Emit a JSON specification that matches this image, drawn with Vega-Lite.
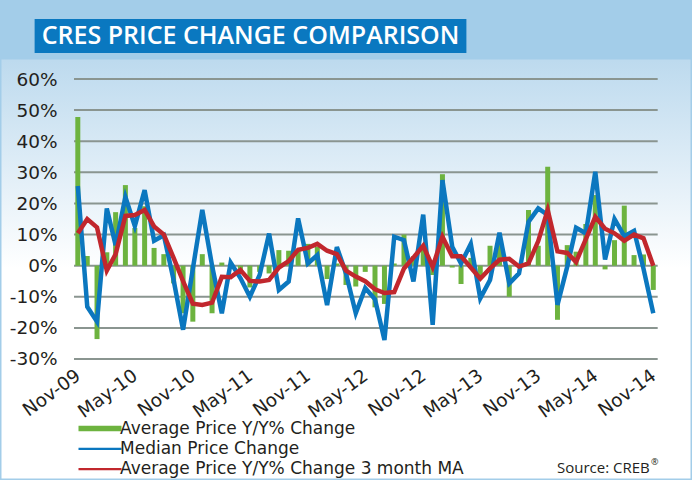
{
  "$schema": "https://vega.github.io/schema/vega-lite/v6.json",
  "width": 692,
  "height": 480,
  "autosize": {"type": "none"},
  "padding": 0,
  "background": "#ffffff",
  "config": {
    "font": "DejaVu Sans",
    "view": {
      "fill": {
        "gradient": "linear",
        "x1": 0, "y1": 0, "x2": 0, "y2": 1,
        "stops": [
          {"offset": 0, "color": "#a3cde9"},
          {"offset": 0.122, "color": "#a3cde9"},
          {"offset": 0.126, "color": "#bddaee"},
          {"offset": 0.56, "color": "#ffffff"},
          {"offset": 1, "color": "#ffffff"}
        ]
      },
      "stroke": "#a3cde9",
      "strokeWidth": 3
    }
  },
  "datasets": {
    "monthly": [
      {"date": "2009-11-01", "avg": 47.8, "median": 25.6, "ma": 10.4},
      {"date": "2009-12-01", "avg": 3.1, "median": -13.2, "ma": 15.0},
      {"date": "2010-01-01", "avg": -23.6, "median": -18.0, "ma": 12.3},
      {"date": "2010-02-01", "avg": 4.3, "median": 18.4, "ma": -1.6},
      {"date": "2010-03-01", "avg": 17.2, "median": 6.6, "ma": 3.7},
      {"date": "2010-04-01", "avg": 25.9, "median": 22.1, "ma": 16.0},
      {"date": "2010-05-01", "avg": 12.1, "median": 12.7, "ma": 16.3},
      {"date": "2010-06-01", "avg": 19.1, "median": 24.3, "ma": 17.9},
      {"date": "2010-07-01", "avg": 5.7, "median": 8.0, "ma": 12.6},
      {"date": "2010-08-01", "avg": 3.7, "median": 9.8, "ma": 10.0},
      {"date": "2010-09-01", "avg": -5.7, "median": -4.6, "ma": 2.5},
      {"date": "2010-10-01", "avg": -15.3, "median": -20.6, "ma": -5.0},
      {"date": "2010-11-01", "avg": -18.0, "median": -1.0, "ma": -12.2},
      {"date": "2010-12-01", "avg": 3.7, "median": 17.9, "ma": -12.6},
      {"date": "2011-01-01", "avg": -15.3, "median": 0.0, "ma": -11.9},
      {"date": "2011-02-01", "avg": 1.0, "median": -15.3, "ma": -3.6},
      {"date": "2011-03-01", "avg": 0.5, "median": 1.0, "ma": -3.7},
      {"date": "2011-04-01", "avg": -2.0, "median": -4.0, "ma": -1.4},
      {"date": "2011-05-01", "avg": -7.0, "median": -10.0, "ma": -4.9},
      {"date": "2011-06-01", "avg": -2.0, "median": -3.0, "ma": -5.1},
      {"date": "2011-07-01", "avg": -2.5, "median": 10.3, "ma": -4.6},
      {"date": "2011-08-01", "avg": 5.0, "median": -7.8, "ma": -0.6},
      {"date": "2011-09-01", "avg": 4.8, "median": -5.1, "ma": 1.5},
      {"date": "2011-10-01", "avg": 5.2, "median": 15.2, "ma": 5.1},
      {"date": "2011-11-01", "avg": 7.0, "median": 0.7, "ma": 5.7},
      {"date": "2011-12-01", "avg": 6.0, "median": 3.4, "ma": 7.0},
      {"date": "2012-01-01", "avg": -4.3, "median": -12.7, "ma": 4.8},
      {"date": "2012-02-01", "avg": 0.7, "median": 6.0, "ma": 3.7},
      {"date": "2012-03-01", "avg": -6.2, "median": -2.5, "ma": -1.6},
      {"date": "2012-04-01", "avg": -6.7, "median": -15.3, "ma": -3.5},
      {"date": "2012-05-01", "avg": -2.0, "median": -7.2, "ma": -5.0},
      {"date": "2012-06-01", "avg": -13.4, "median": -10.8, "ma": -7.6},
      {"date": "2012-07-01", "avg": -12.3, "median": -23.9, "ma": -8.8},
      {"date": "2012-08-01", "avg": 0.7, "median": 9.3, "ma": -8.5},
      {"date": "2012-09-01", "avg": 10.0, "median": 8.2, "ma": -0.9},
      {"date": "2012-10-01", "avg": 3.0, "median": -5.1, "ma": 2.6},
      {"date": "2012-11-01", "avg": 6.0, "median": 16.4, "ma": 6.4},
      {"date": "2012-12-01", "avg": -3.0, "median": -19.0, "ma": -0.4},
      {"date": "2013-01-01", "avg": 29.4, "median": 27.5, "ma": 9.3},
      {"date": "2013-02-01", "avg": -0.6, "median": 6.1, "ma": 3.0},
      {"date": "2013-03-01", "avg": -5.9, "median": 0.7, "ma": 3.0},
      {"date": "2013-04-01", "avg": 2.5, "median": 7.0, "ma": -0.6},
      {"date": "2013-05-01", "avg": -4.0, "median": -10.5, "ma": -4.2},
      {"date": "2013-06-01", "avg": 6.4, "median": -4.6, "ma": -0.9},
      {"date": "2013-07-01", "avg": 8.0, "median": 10.6, "ma": 1.9},
      {"date": "2013-08-01", "avg": -10.0, "median": -5.7, "ma": 2.2},
      {"date": "2013-09-01", "avg": 0.5, "median": -2.5, "ma": -0.3},
      {"date": "2013-10-01", "avg": 17.9, "median": 14.1, "ma": 0.7},
      {"date": "2013-11-01", "avg": 6.4, "median": 18.4, "ma": 7.9},
      {"date": "2013-12-01", "avg": 31.8, "median": 16.3, "ma": 17.9},
      {"date": "2014-01-01", "avg": -17.4, "median": -12.6, "ma": 4.6},
      {"date": "2014-02-01", "avg": 6.6, "median": -0.3, "ma": 4.1},
      {"date": "2014-03-01", "avg": 4.5, "median": 12.2, "ma": 1.2},
      {"date": "2014-04-01", "avg": 13.4, "median": 10.4, "ma": 8.5},
      {"date": "2014-05-01", "avg": 22.7, "median": 30.2, "ma": 15.7},
      {"date": "2014-06-01", "avg": -1.2, "median": 2.0, "ma": 11.9},
      {"date": "2014-07-01", "avg": 8.2, "median": 15.0, "ma": 10.4},
      {"date": "2014-08-01", "avg": 19.3, "median": 9.5, "ma": 8.0},
      {"date": "2014-09-01", "avg": 3.4, "median": 11.2, "ma": 10.0},
      {"date": "2014-10-01", "avg": 3.6, "median": -1.0, "ma": 8.8},
      {"date": "2014-11-01", "avg": -7.8, "median": -15.3, "ma": 0.0}
    ],
    "gridlines": [
      {"v": -30}, {"v": -20}, {"v": -10}, {"v": 0}, {"v": 10},
      {"v": 20}, {"v": 30}, {"v": 40}, {"v": 50}, {"v": 60}
    ]
  },
  "layer": [
    {
      "data": {"values": [{"heading": "CRES PRICE CHANGE COMPARISON"}]},
      "layer": [
        {
          "mark": {"type": "rect", "color": "#0a78c0"},
          "encoding": {
            "x": {"datum": {"year": 2009, "month": 6, "date": 17, "utc": true}, "type": "temporal",
                  "scale": {"type": "utc", "domain": [{"year": 2009, "month": 3, "date": 15, "utc": true}, {"year": 2015, "month": 2, "date": 16, "utc": true}]}},
            "x2": {"datum": {"year": 2013, "month": 3, "date": 18, "utc": true}},
            "y": {"datum": 79.3, "type": "quantitative",
                  "scale": {"domain": [-68.9, 85.4], "nice": false, "zero": false}},
            "y2": {"datum": 68.4}
          }
        },
        {
          "mark": {"type": "text", "color": "#ffffff", "font": "Open Sans", "fontSize": 25, "fontWeight": 600, "align": "center", "baseline": "middle"},
          "encoding": {
            "text": {"field": "heading"},
            "x": {"datum": {"year": 2011, "month": 5, "date": 3, "utc": true}, "type": "temporal"},
            "y": {"datum": 73.9, "type": "quantitative"}
          }
        }
      ]
    },
    {
      "data": {"name": "gridlines"},
      "mark": {"type": "rule", "color": "#8a9590", "strokeWidth": 2},
      "encoding": {
        "y": {"field": "v", "type": "quantitative",
              "scale": {"domain": [-68.9, 85.4], "nice": false, "zero": false},
              "axis": {"title": null, "values": [-30, -20, -10, 0, 10, 20, 30, 40, 50, 60],
                       "labelExpr": "datum.value + '%'", "domain": false, "ticks": false, "tickSize": 0,
                       "grid": false, "orient": "left", "offset": -62, "zindex": 2,
                       "labelAlign": "right", "labelBaseline": "middle", "labelPadding": 5,
                       "labelFont": "DejaVu Sans", "labelFontSize": 18.5, "labelColor": "#231f20"}},
        "x": {"datum": {"year": 2009, "month": 10, "date": 20, "utc": true}, "type": "temporal"},
        "x2": {"datum": {"year": 2014, "month": 11, "date": 15, "utc": true}}
      }
    },
    {
      "data": {"name": "monthly"},
      "layer": [
        {
          "mark": {"type": "bar", "width": 5},
          "encoding": {
            "x": {"field": "date", "type": "temporal",
                  "scale": {"type": "utc", "domain": [{"year": 2009, "month": 3, "date": 15, "utc": true}, {"year": 2015, "month": 2, "date": 16, "utc": true}]},
                  "axis": {"title": null, "format": "%b-%y", "orient": "bottom", "offset": -118, "zindex": 2,
                           "values": [
                             {"year": 2009, "month": 11, "date": 1, "utc": true},
                             {"year": 2010, "month": 5, "date": 1, "utc": true},
                             {"year": 2010, "month": 11, "date": 1, "utc": true},
                             {"year": 2011, "month": 5, "date": 1, "utc": true},
                             {"year": 2011, "month": 11, "date": 1, "utc": true},
                             {"year": 2012, "month": 5, "date": 1, "utc": true},
                             {"year": 2012, "month": 11, "date": 1, "utc": true},
                             {"year": 2013, "month": 5, "date": 1, "utc": true},
                             {"year": 2013, "month": 11, "date": 1, "utc": true},
                             {"year": 2014, "month": 5, "date": 1, "utc": true},
                             {"year": 2014, "month": 11, "date": 1, "utc": true}
                           ],
                           "labelAngle": -36, "labelAlign": "right", "labelBaseline": "middle",
                           "labelOverlap": false, "labelBound": false, "labelFlush": false,
                           "labelPadding": 11, "domain": false, "ticks": false, "tickSize": 0, "grid": false,
                           "labelFont": "DejaVu Sans", "labelFontSize": 18.5, "labelColor": "#231f20"}},
            "y": {"field": "avg", "type": "quantitative"},
            "y2": {"datum": 0},
            "color": {
              "datum": "avg",
              "scale": {"domain": ["avg", "median", "ma"], "range": ["#6db33f", "#0b77bf", "#c1272d"]},
              "legend": {
                "title": null, "orient": "none", "legendX": 91.5, "legendY": 420,
                "direction": "vertical", "padding": 0,
                "labelExpr": "datum.value === 'avg' ? 'Average Price Y/Y% Change' : datum.value === 'median' ? 'Median Price Change' : 'Average Price Y/Y% Change 3 month MA'",
                "labelFont": "DejaVu Sans", "labelFontSize": 17, "labelColor": "#231f20", "labelLimit": 500,
                "labelOffset": 11.5, "rowPadding": 2.3,
                "symbolSize": 100, "symbolStrokeWidth": 0,
                "symbolType": "M-4.3,-0.22H4.3V0.22H-4.3Z",
                "encode": {
                  "symbols": {
                    "update": {
                      "shape": [
                        {"test": "datum.value === 'avg'", "value": "M-4.3,-0.55H4.3V0.55H-4.3Z"},
                        {"value": "M-4.3,-0.22H4.3V0.22H-4.3Z"}
                      ]
                    }
                  }
                }
              }
            }
          }
        },
        {
          "mark": {"type": "line", "strokeWidth": 4.5, "strokeJoin": "miter"},
          "encoding": {
            "x": {"field": "date", "type": "temporal"},
            "y": {"field": "median", "type": "quantitative"},
            "color": {"datum": "median", "legend": null}
          }
        },
        {
          "mark": {"type": "line", "strokeWidth": 4.5, "strokeJoin": "miter"},
          "encoding": {
            "x": {"field": "date", "type": "temporal"},
            "y": {"field": "ma", "type": "quantitative"},
            "color": {"datum": "ma", "legend": null}
          }
        }
      ]
    },
    {
      "data": {"values": [{"credit": "Source: CREB", "mark": "®"}]},
      "layer": [
        {
          "mark": {"type": "text", "font": "Open Sans", "fontSize": 15, "color": "#231f20", "align": "right", "baseline": "middle"},
          "encoding": {
            "text": {"field": "credit"},
            "x": {"datum": {"year": 2014, "month": 10, "date": 21, "utc": true}, "type": "temporal"},
            "y": {"datum": -65.0, "type": "quantitative"}
          }
        },
        {
          "mark": {"type": "text", "font": "Open Sans", "fontSize": 9, "color": "#231f20", "align": "left", "baseline": "middle"},
          "encoding": {
            "text": {"field": "mark"},
            "x": {"datum": {"year": 2014, "month": 10, "date": 25, "utc": true}, "type": "temporal"},
            "y": {"datum": -63.2, "type": "quantitative"}
          }
        }
      ]
    }
  ]
}
